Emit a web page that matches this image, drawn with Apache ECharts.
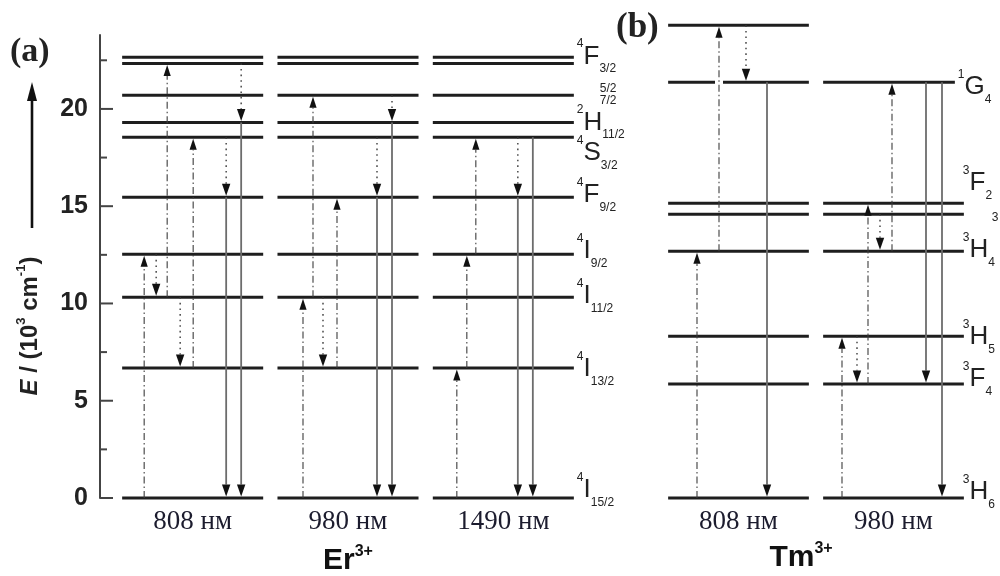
<!DOCTYPE html>
<html><head><meta charset="utf-8">
<script src="https://cdn.jsdelivr.net/npm/echarts@6/dist/echarts.min.js"></script>
<style>html,body{margin:0;padding:0;background:#fff}#c{width:1000px;height:576px}</style>
</head><body><div id="c"></div>
<script>
// ================= DATA =================
const erPumps = ['808 нм', '980 нм', '1490 нм'];
const tmPumps = ['808 нм', '980 нм'];
const yMajorTicks = [0, 5, 10, 15, 20];
const yMinorTicks = [2.5, 7.5, 12.5, 17.5, 22.5];

// Er3+ levels (10^3 cm^-1): 4I15/2, 4I13/2, 4I11/2, 4I9/2, 4F9/2, 4S3/2, 2H11/2, 4F7/2, 4F5/2, 4F3/2
const erLevelE    = [0, 6.68, 10.32, 12.53, 15.46, 18.54, 19.30, 20.70, 22.34, 22.65];
const erLevelSup  = ['4', '4', '4', '4', '4', '4', '2', '', '', '4'];
const erLevelMain = ['I', 'I', 'I', 'I', 'F', 'S', 'H', '', '', 'F'];
const erLevelSub  = ['15/2', '13/2', '11/2', '9/2', '9/2', '3/2', '11/2', '7/2', '5/2', '3/2'];

// Tm3+ levels: 3H6, 3F4, 3H5, 3H4, 3F3, 3F2, 1G4, 1D2
const tmLevelE    = [0, 5.86, 8.32, 12.69, 14.59, 15.15, 21.37, 24.30];
const tmLevelSup  = ['3', '3', '3', '3', '', '3', '1', ''];
const tmLevelMain = ['H', 'F', 'H', 'H', '', 'F', 'G', ''];
const tmLevelSub  = ['6', '4', '5', '4', '3', '2', '4', ''];
const tmLevelPumps = [[0, 1], [0, 1], [0, 1], [0, 1], [0, 1], [0, 1], [0, 1], [0]];

// transitions: [pump index, from level, to level, kind]
const erTransitions = [
  [0, 0, 3, 'pump'], [0, 3, 2, 'relax'], [0, 2, 8, 'pump'], [0, 2, 1, 'relax'],
  [0, 1, 5, 'pump'], [0, 5, 4, 'relax'], [0, 4, 0, 'emit'], [0, 8, 6, 'relax'], [0, 6, 0, 'emit'],
  [1, 0, 2, 'pump'], [1, 2, 7, 'pump'], [1, 2, 1, 'relax'], [1, 1, 4, 'pump'],
  [1, 5, 4, 'relax'], [1, 4, 0, 'emit'], [1, 7, 6, 'relax'], [1, 6, 0, 'emit'],
  [2, 0, 1, 'pump'], [2, 1, 3, 'pump'], [2, 3, 5, 'pump'],
  [2, 5, 4, 'relax'], [2, 4, 0, 'emit'], [2, 5, 0, 'emit']
];
const tmTransitions = [
  [0, 0, 3, 'pump'], [0, 3, 7, 'pump'], [0, 7, 6, 'relax'], [0, 6, 0, 'emit'],
  [1, 0, 2, 'pump'], [1, 2, 1, 'relax'], [1, 1, 5, 'pump'], [1, 4, 3, 'relax'],
  [1, 3, 6, 'pump'], [1, 6, 1, 'emit'], [1, 6, 0, 'emit']
];

// ================= LAYOUT =================
const erTransX = [-48.5, -36.5, -25.5, -12.5, 0.5, 33.5, 33.5, 48.5, 48.5,
                  -45, -35, -25, -11, 29, 29, 44, 44,
                  -46.5, -36.5, -27.5, 14.5, 14.5, 29.5];
const tmTransX = [-41.5, -19.5, 7.5, 28.5, -51.5, -36.5, -25.5, -13.5, -1.5, 32.5, 48.5];
const erLabelPos = [[3, -8], [3, 1], [3, -1], [3, -3], [3, -2], [3, 16], [3, 0], [26, 4], [26, 24], [3, -1]];
const tmLabelPos = [[-1, -6], [-1, -5], [-1, 1], [-1, -1], [28, 3], [-1, -20], [-6, 5], [0, 0]];
const tmLevelTrim = [0, 0, 0, 0, 0, 0, 9, 0];
// gaps in level lines: [pump, level, dx of gap centre, gap width]
const tmLevelGaps = [[0, 6, -19.5, 8]];
const LEVEL_HALF = 0.454;
const Y_AXIS_OFFSET = 15;

const SANS = '"Liberation Sans", Arial, sans-serif';
const SERIF = '"Liberation Serif", "Times New Roman", serif';
const INK = '#1e1e1e';

const transStyle = {
  pump:  { stroke: '#3c3c3c', lineWidth: 1.1, lineDash: [7, 3, 1.5, 3] },
  relax: { stroke: '#3c3c3c', lineWidth: 1.4, lineDash: [1.6, 4] },
  emit:  { stroke: '#6c6c6c', lineWidth: 1.8 }
};

const labelRich = {
  sup:  { fontSize: 12, lineHeight: 14, verticalAlign: 'top', fontFamily: SANS, fill: '#222', color: '#222' },
  main: { fontSize: 26, lineHeight: 37, fontFamily: SANS, fill: '#222', color: '#222' },
  sub:  { fontSize: 12, lineHeight: 14, verticalAlign: 'bottom', fontFamily: SANS, fill: '#222', color: '#222' }
};

function levelSeries(gridIndex, pumps, levelE, levelPumps, trim, gaps) {
  const data = [];
  levelE.forEach((e, li) => {
    (levelPumps ? levelPumps[li] : pumps.map((_, i) => i)).forEach(p => data.push([p, e, li]));
  });
  const last = pumps.length - 1;
  return {
    type: 'custom', xAxisIndex: gridIndex, yAxisIndex: gridIndex, silent: true, clip: false,
    encode: { x: 0, y: 1 }, data,
    renderItem(params, api) {
      const p = api.value(0), e = api.value(1), li = api.value(2);
      const c = api.coord([p, e]);
      const half = api.size([1, 0])[0] * LEVEL_HALF;
      const t = (trim && p === last) ? trim[li] : 0;
      const style = { stroke: INK, lineWidth: 3 };
      const x1 = c[0] - half, x2 = c[0] + half - t;
      const g = (gaps || []).find(q => q[0] === p && q[1] === li);
      if (g) {
        const gx = c[0] + g[2];
        return { type: 'group', children: [
          { type: 'line', shape: { x1: x1, y1: c[1], x2: gx - g[3] / 2, y2: c[1] }, style },
          { type: 'line', shape: { x1: gx + g[3] / 2, y1: c[1], x2: x2, y2: c[1] }, style }
        ] };
      }
      return { type: 'line', shape: { x1, y1: c[1], x2, y2: c[1] }, style };
    }
  };
}

function transSeries(gridIndex, trans, levelE, offs) {
  const data = trans.map((t, i) => [t[0], levelE[t[1]], levelE[t[2]], i]);
  return {
    type: 'custom', xAxisIndex: gridIndex, yAxisIndex: gridIndex, silent: true, z: 3, clip: false,
    encode: { x: 0, y: [1, 2] }, data,
    renderItem(params, api) {
      const p = api.value(0), e1 = api.value(1), e2 = api.value(2), i = api.value(3);
      const kind = trans[i][3];
      const a = api.coord([p, e1]), b = api.coord([p, e2]);
      const x = a[0] + offs[i];
      const up = e2 > e1;
      const tip = b[1] + (up ? 1.5 : -1.5);
      const hl = up ? 11 : 12, hw = up ? 3.6 : 4.2;
      const base = up ? tip + hl : tip - hl;
      return { type: 'group', children: [
        { type: 'line', shape: { x1: x, y1: a[1], x2: x, y2: base }, style: transStyle[kind] },
        { type: 'polygon', shape: { points: [[x - hw, base], [x + hw, base], [x, tip]] }, style: { fill: '#111' } }
      ] };
    }
  };
}

function labelSeries(gridIndex, pumps, levelE, sup, main, sub, pos) {
  const last = pumps.length - 1;
  const data = [];
  levelE.forEach((e, li) => { if (sup[li] || main[li] || sub[li]) data.push([last, e, li]); });
  return {
    type: 'custom', xAxisIndex: gridIndex, yAxisIndex: gridIndex, silent: true, clip: false,
    encode: { x: 0, y: 1 }, data,
    renderItem(params, api) {
      const p = api.value(0), e = api.value(1), li = api.value(2);
      const c = api.coord([p, e]);
      const end = c[0] + api.size([1, 0])[0] * LEVEL_HALF;
      let txt = '';
      if (sup[li]) txt += '{sup|' + sup[li] + '}';
      if (main[li]) txt += '{main|' + main[li] + '}';
      if (sub[li]) txt += '{sub|' + sub[li] + '}';
      return { type: 'text', x: end + pos[li][0], y: c[1] + pos[li][1],
               style: { text: txt, rich: labelRich, align: 'left', verticalAlign: 'middle', fill: '#222',
                        fontFamily: SANS, fontSize: 12 } };
    }
  };
}

function tickSeries() {
  const data = yMajorTicks.map(v => [0, v, 13]).concat(yMinorTicks.map(v => [0, v, 7]));
  return {
    type: 'custom', xAxisIndex: 0, yAxisIndex: 0, silent: true, clip: false, z: 6,
    encode: { x: 0, y: 1 }, data,
    renderItem(params, api) {
      const c = api.coord([0, api.value(1)]);
      const ax = c[0] - api.size([1, 0])[0] / 2 - Y_AXIS_OFFSET;
      const len = api.value(2);
      return { type: 'line', shape: { x1: ax, y1: c[1], x2: ax + len, y2: c[1] },
               style: { stroke: '#444', lineWidth: 2 } };
    }
  };
}

const catAxisBase = {
  type: 'category', boundaryGap: true,
  axisLine: { show: false }, axisTick: { show: false }, splitLine: { show: false },
  axisLabel: { fontFamily: SERIF, fontSize: 27, color: '#1c1c2e', margin: 10 },
  nameLocation: 'middle', nameGap: 46,
  nameTextStyle: {
    rich: {
      m: { fontFamily: SANS, fontWeight: 'bold', fontSize: 30, lineHeight: 34, color: '#111' },
      s: { fontFamily: SANS, fontWeight: 'bold', fontSize: 16, lineHeight: 18, verticalAlign: 'top', color: '#111' }
    }
  }
};

const option = {
  backgroundColor: '#fff',
  animation: false,
  grid: [
    { left: 115, right: 419, top: 35, bottom: 78, containLabel: false, outerBoundsMode: 'none' },
    { left: 661, right: 29, top: 21.4, bottom: 78, containLabel: false, outerBoundsMode: 'none' }
  ],
  xAxis: [
    Object.assign({}, catAxisBase, { gridIndex: 0, data: erPumps, name: '{m|Er}{s|3+}' }),
    Object.assign({}, catAxisBase, { gridIndex: 1, data: tmPumps, name: '{m|Tm}{s|3+}', nameGap: 43,
      nameTextStyle: Object.assign({}, catAxisBase.nameTextStyle, { padding: [0, 30, 0, 0] }) })
  ],
  yAxis: [
    { gridIndex: 0, type: 'value', min: 0, max: 23.8, interval: 5, offset: Y_AXIS_OFFSET,
      axisLine: { show: true, lineStyle: { color: '#444', width: 2 } },
      axisTick: { show: false }, splitLine: { show: false },
      axisLabel: { fontFamily: SANS, fontWeight: 'bold', fontSize: 25, color: '#222', margin: 12,
                   formatter: v => (v % 5 === 0 ? String(v) : '') } },
    { gridIndex: 1, type: 'value', min: 0, max: 24.5, show: false }
  ],
  graphic: [
    { type: 'text', x: 10, y: 52, style: { text: '(a)', font: 'bold 34px ' + SERIF, fill: '#222', align: 'left', verticalAlign: 'middle' } },
    { type: 'text', x: 616, y: 28, style: { text: '(b)', font: 'bold 35px ' + SERIF, fill: '#222', align: 'left', verticalAlign: 'middle' } },
    { type: 'text', x: 30, y: 326, rotation: Math.PI / 2,
      style: { text: '{it|E}{n| / (10}{s|3}{n| cm}{s|-1}{n|)}', align: 'center', verticalAlign: 'middle', fill: '#222',
        rich: {
          it: { fontFamily: SANS, fontWeight: 'bold', fontStyle: 'italic', fontSize: 24, lineHeight: 30, fill: '#222' },
          n:  { fontFamily: SANS, fontWeight: 'bold', fontSize: 24, lineHeight: 30, fill: '#222' },
          s:  { fontFamily: SANS, fontWeight: 'bold', fontSize: 13, lineHeight: 14, verticalAlign: 'top', fill: '#222' }
        } } },
    { type: 'line', shape: { x1: 32, y1: 228, x2: 32, y2: 98 }, style: { stroke: '#111', lineWidth: 2.6 } },
    { type: 'polygon', shape: { points: [[27, 101], [37, 101], [32, 82]] }, style: { fill: '#111' } }
  ],
  series: [
    levelSeries(0, erPumps, erLevelE, null, null, null),
    transSeries(0, erTransitions, erLevelE, erTransX),
    labelSeries(0, erPumps, erLevelE, erLevelSup, erLevelMain, erLevelSub, erLabelPos),
    levelSeries(1, tmPumps, tmLevelE, tmLevelPumps, tmLevelTrim, tmLevelGaps),
    transSeries(1, tmTransitions, tmLevelE, tmTransX),
    labelSeries(1, tmPumps, tmLevelE, tmLevelSup, tmLevelMain, tmLevelSub, tmLabelPos),
    tickSeries()
  ]
};

const chart = echarts.init(document.getElementById('c'));
chart.setOption(option);
</script>
</body></html>
